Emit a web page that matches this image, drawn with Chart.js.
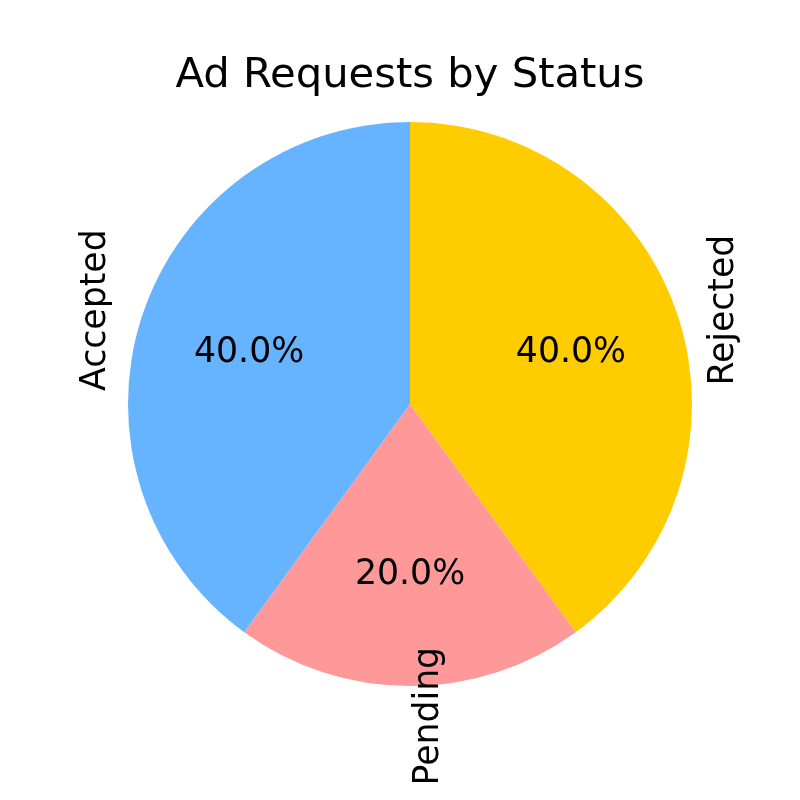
<!DOCTYPE html>
<html>
<head>
<meta charset="utf-8">
<script src="https://cdn.jsdelivr.net/npm/chart.js@4.4.1/dist/chart.umd.min.js"></script>
<style>
  html, body { margin: 0; padding: 0; background: #ffffff; }
  #wrap { width: 800px; height: 800px; }
</style>
</head>
<body>
<div id="wrap"><canvas id="c" width="800" height="800"></canvas></div>
<script>
// Data (matplotlib order: counter-clockwise from the top)
const categories = ['Accepted', 'Pending', 'Rejected'];
const shares = [40, 20, 40];
const sliceColors = ['#66b3ff', '#ff9999', '#ffcc00'];
const chartTitle = 'Ad Requests by Status';

// Chart.js draws clockwise, so reverse to get the same layout
const cjLabels = categories.slice().reverse();
const cjValues = shares.slice().reverse();
const cjColors = sliceColors.slice().reverse();

const FONT = '"DejaVu Sans", "Liberation Sans", sans-serif';
const LABEL_SIZE = 34.7;
const TITLE_SIZE = 41.7;

const textPlugin = {
  id: 'pieText',
  afterDatasetsDraw(chart) {
    const ctx = chart.ctx;
    const meta = chart.getDatasetMeta(0);
    const values = chart.data.datasets[0].data;
    const total = values.reduce((a, b) => a + b, 0);
    ctx.save();
    ctx.fillStyle = '#000000';
    ctx.font = LABEL_SIZE + 'px ' + FONT;
    meta.data.forEach((el, i) => {
      const p = el.getProps(['x', 'y', 'startAngle', 'endAngle', 'outerRadius'], true);
      const mid = (p.startAngle + p.endAngle) / 2;
      const R = p.outerRadius;
      // percentage at 0.6 R
      const px = p.x + Math.cos(mid) * 0.6 * R;
      const py = p.y + Math.sin(mid) * 0.6 * R;
      ctx.textAlign = 'center';
      ctx.textBaseline = 'alphabetic';
      ctx.fillText((values[i] / total * 100).toFixed(1) + '%', px, py + 0.3 * LABEL_SIZE);
      // category label at 1.1 R, rotated 90 degrees
      const lx = p.x + Math.cos(mid) * 1.1 * R;
      const ly = p.y + Math.sin(mid) * 1.1 * R;
      const baseX = Math.cos(mid) >= 0 ? lx + 0.8 * LABEL_SIZE : lx - 0.3 * LABEL_SIZE;
      ctx.save();
      ctx.translate(baseX, ly + 2);
      ctx.rotate(-Math.PI / 2);
      ctx.textAlign = 'center';
      ctx.textBaseline = 'alphabetic';
      ctx.fillText(chart.data.labels[i], 0, 0);
      ctx.restore();
    });
    // title centred over the pie
    const c = meta.data[0].getProps(['x', 'y', 'outerRadius'], true);
    ctx.font = TITLE_SIZE + 'px ' + FONT;
    ctx.textAlign = 'center';
    ctx.textBaseline = 'alphabetic';
    ctx.fillText(chartTitle, c.x, c.y - c.outerRadius - 35);
    ctx.restore();
  }
};

new Chart(document.getElementById('c'), {
  type: 'pie',
  data: {
    labels: cjLabels,
    datasets: [{
      data: cjValues,
      backgroundColor: cjColors,
      borderWidth: 0,
      hoverOffset: 0
    }]
  },
  options: {
    responsive: false,
    animation: false,
    rotation: 0,
    layout: { padding: { left: 128, right: 108, top: 122, bottom: 114 } },
    plugins: {
      legend: { display: false },
      title: { display: false },
      tooltip: { enabled: false }
    }
  },
  plugins: [textPlugin]
});
</script>
</body>
</html>
